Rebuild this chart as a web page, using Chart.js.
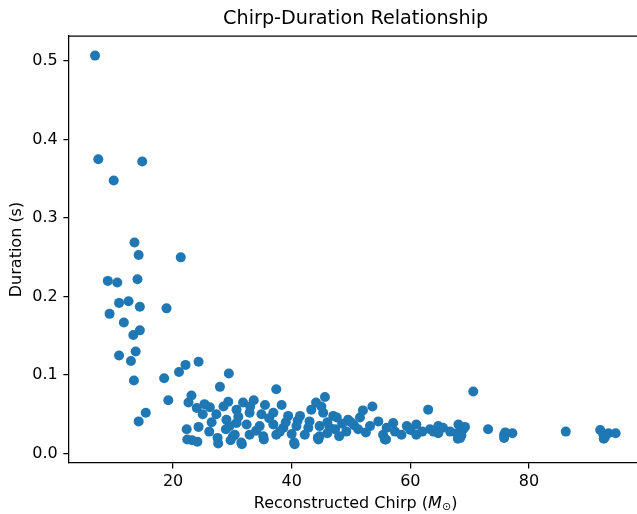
<!DOCTYPE html>
<html>
<head>
<meta charset="utf-8">
<script src="https://cdn.jsdelivr.net/npm/chart.js@4.4.1/dist/chart.umd.min.js"></script>
<style>
  html, body { margin: 0; padding: 0; background: #fff; }
  #wrap { width: 637px; height: 514px; }
</style>
</head>
<body>
<div id="wrap"><canvas id="chirpChart" width="637" height="514"></canvas></div>
<script>
const chirpMass = [
  6.85, 7.4, 10.0, 14.8, 13.5, 14.2, 21.3, 9.0, 10.6, 14.0,
  10.9, 12.5, 14.4, 18.9, 9.3, 11.7, 14.4, 13.3, 13.7, 10.9,
  12.9, 24.3, 22.1, 21.0, 29.4, 18.5, 13.4, 27.9, 23.1, 22.6,
  19.2, 25.3, 15.4, 14.2, 29.3, 26.2, 27.3, 22.3, 24.3, 26.1,
  22.4, 24.1, 27.6, 29.0, 28.9, 30.1, 30.7, 37.4, 45.6, 44.1,
  31.8, 33.6, 35.5, 38.3, 32.9, 34.9, 36.9, 39.4, 41.4, 43.3,
  45.3, 47.0, 30.7, 32.4, 34.6, 36.9, 38.6, 40.8, 42.8, 44.7,
  46.4, 30.4, 32.9, 35.2, 37.4, 42.2, 44.7, 31.5, 35.3, 40.4,
  44.4, 33.0, 36.2, 39.0, 41.0, 28.5, 31.0, 34.0, 38.0, 40.0,
  43.0, 45.0, 46.0, 29.5, 26.5, 25.0, 24.0, 27.5, 53.6, 52.0,
  63.0, 47.6, 49.5, 51.5, 47.3, 49.2, 51.2, 53.2, 54.6, 55.4,
  55.7, 57.4, 57.1, 59.4, 58.5, 61.0, 61.0, 63.3, 64.7, 48.5,
  50.5, 52.5, 48.0, 50.0, 56.0, 60.0, 62.0, 46.0, 70.6, 73.1,
  75.8, 77.2, 63.9, 65.5, 66.7, 68.1, 68.9, 68.4, 67.8, 64.7,
  69.2, 68.6, 86.2, 92.0, 92.8, 93.4, 94.6, 92.5, 76.0, 31.6,
  40.5, 23.2, 29.7, 44.5, 55.9, 68.0, 75.8, 92.6
];
const durations = [
  0.507, 0.375, 0.348, 0.372, 0.269, 0.253, 0.250, 0.220, 0.218, 0.222,
  0.192, 0.194, 0.187, 0.185, 0.178, 0.167, 0.157, 0.151, 0.130, 0.125,
  0.118, 0.117, 0.113, 0.104, 0.102, 0.096, 0.093, 0.085, 0.074, 0.065,
  0.068, 0.063, 0.052, 0.041, 0.066, 0.059, 0.050, 0.031, 0.034, 0.028,
  0.018, 0.015, 0.013, 0.043, 0.031, 0.022, 0.056, 0.082, 0.072, 0.065,
  0.065, 0.068, 0.062, 0.062, 0.052, 0.050, 0.052, 0.048, 0.048, 0.056,
  0.052, 0.048, 0.039, 0.037, 0.035, 0.037, 0.033, 0.035, 0.033, 0.035,
  0.033, 0.024, 0.024, 0.022, 0.024, 0.024, 0.022, 0.014, 0.018, 0.014,
  0.020, 0.060, 0.045, 0.040, 0.042, 0.060, 0.047, 0.029, 0.028, 0.025,
  0.041, 0.060, 0.040, 0.035, 0.040, 0.050, 0.058, 0.020, 0.060, 0.055,
  0.056, 0.046, 0.043, 0.046, 0.031, 0.028, 0.031, 0.035, 0.041, 0.024,
  0.018, 0.028, 0.039, 0.035, 0.024, 0.037, 0.024, 0.031, 0.035, 0.038,
  0.036, 0.027, 0.022, 0.040, 0.033, 0.030, 0.028, 0.026, 0.079, 0.031,
  0.024, 0.026, 0.028, 0.033, 0.028, 0.037, 0.031, 0.020, 0.026, 0.026,
  0.034, 0.023, 0.028, 0.030, 0.021, 0.026, 0.026, 0.025, 0.027, 0.012,
  0.012, 0.017, 0.017, 0.018, 0.018, 0.019, 0.020, 0.019
];
const xTicks = [20, 40, 60, 80];
const yTicks = [0.0, 0.1, 0.2, 0.3, 0.4, 0.5];

const FONT = "'DejaVu Sans', sans-serif";
const BLUE = '#1f77b4';
const X_FULL_MAX = 99.1; // axes continue past the cropped right edge

// top spine, title and mathtext-style x label (centred on the uncropped axes)
const framePlugin = {
    id: 'frame',
    afterDraw(chart) {
        const { ctx, chartArea } = chart;
        const xs = chart.scales.x;
        const cx = (chartArea.left + xs.getPixelForValue(X_FULL_MAX)) / 2;
        ctx.save();
        ctx.strokeStyle = '#000';
        ctx.lineWidth = 1.25;
        ctx.beginPath();
        ctx.moveTo(chartArea.left, chartArea.top);
        ctx.lineTo(chart.width, chartArea.top);
        ctx.stroke();

        ctx.fillStyle = '#000';
        ctx.textBaseline = 'middle';
        ctx.textAlign = 'center';
        ctx.font = `19.2px ${FONT}`;
        ctx.fillText('Chirp-Duration Relationship', cx, 19);

        const parts = [
            { t: 'Reconstructed Chirp (', f: `16px ${FONT}`, dy: 0 },
            { t: 'M', f: `oblique 16px ${FONT}`, dy: 0 },
            { t: '\u2299', f: `11.2px ${FONT}`, dy: 3.5 },
            { t: ')', f: `16px ${FONT}`, dy: 0 }
        ];
        let total = 0;
        parts.forEach(p => { ctx.font = p.f; p.w = ctx.measureText(p.t).width; total += p.w; });
        let x = cx - total / 2;
        ctx.textAlign = 'left';
        parts.forEach(p => {
            ctx.font = p.f;
            ctx.fillText(p.t, x, 504 + p.dy);
            x += p.w;
        });
        ctx.restore();
    }
};

const ctx = document.getElementById('chirpChart').getContext('2d');
new Chart(ctx, {
    type: 'scatter',
    data: {
        datasets: [{
            data: chirpMass.map((m, i) => ({ x: m, y: durations[i] })),
            backgroundColor: BLUE,
            borderColor: BLUE,
            borderWidth: 0,
            pointRadius: 5,
            pointHoverRadius: 5
        }]
    },
    options: {
        responsive: false,
        animation: false,
        layout: { autoPadding: false, padding: { left: 0, right: 0, top: 36, bottom: 0 } },
        plugins: {
            legend: { display: false },
            tooltip: { enabled: false },
            title: { display: false }
        },
        scales: {
            x: {
                type: 'linear',
                min: 2.46,
                max: 98.2,
                afterBuildTicks(scale) { scale.ticks = xTicks.map(v => ({ value: v })); },
                afterFit(scale) {
                    scale.height = 51;
                    scale.paddingLeft = 0;
                    scale.paddingRight = 0;
                },
                grid: { display: true, drawOnChartArea: false, drawTicks: true, tickLength: 5.6, color: '#000', lineWidth: 1.25 },
                border: { display: true, color: '#000', width: 1.25 },
                ticks: {
                    color: '#000',
                    padding: 4,
                    maxRotation: 0,
                    font: { family: FONT, size: 16 },
                    callback: v => String(v)
                }
            },
            y: {
                type: 'linear',
                min: -0.012,
                max: 0.532,
                afterBuildTicks(scale) { scale.ticks = yTicks.map(v => ({ value: v })); },
                afterFit(scale) {
                    scale.width = 69;
                    scale.paddingTop = 0;
                    scale.paddingBottom = 0;
                },
                grid: { display: true, drawOnChartArea: false, drawTicks: true, tickLength: 5.6, color: '#000', lineWidth: 1.25 },
                border: { display: true, color: '#000', width: 1.25 },
                title: {
                    display: true,
                    text: 'Duration (s)',
                    color: '#000',
                    font: { family: FONT, size: 16 },
                    padding: { top: 7, bottom: 0 }
                },
                ticks: {
                    color: '#000',
                    padding: 5.6,
                    font: { family: FONT, size: 16 },
                    callback: v => Number(v).toFixed(1)
                }
            }
        }
    },
    plugins: [framePlugin]
});
</script>
</body>
</html>
